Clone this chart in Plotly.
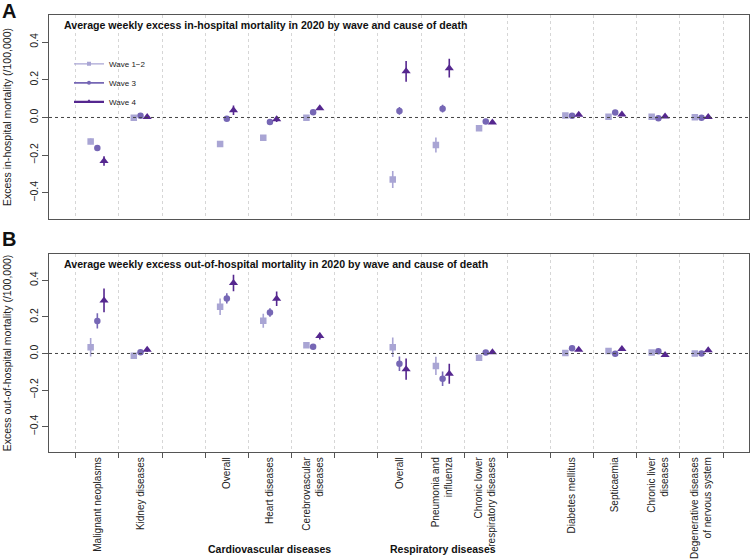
import plotly.graph_objects as go

# ---------------- data ----------------
category_slots = ["Malignant neoplasms", "Kidney diseases", "",
                  "Overall", "Heart diseases", "Cerebrovascular<br>diseases", "",
                  "Overall", "Pneumonia and<br>influenza", "Chronic lower<br>respiratory diseases", "",
                  "Diabetes mellitus", "Septicaemia", "Chronic liver<br>diseases",
                  "Degenerative diseases<br>of nervous system"]
group_labels = ["Cardiovascular diseases", "Respiratory diseases"]
group_centers = ["Heart diseases", "Pneumonia and<br>influenza"]

waves = ["Wave 1\u22122", "Wave 3", "Wave 4"]

# Panel A: in-hospital
w12_a = [-0.127, -0.002, -0.141, -0.108, -0.002, -0.329, -0.146, -0.057, 0.010, 0.004, 0.004, 0.001]
w12_a_err = [0.015, 0.006, 0.012, 0.008, 0.006, 0.045, 0.040, 0.010, 0.006, 0.006, 0.006, 0.004]
w3_a = [-0.162, 0.009, -0.007, -0.024, 0.028, 0.035, 0.047, -0.021, 0.009, 0.026, -0.004, -0.001]
w3_a_err = [0.008, 0.005, 0.006, 0.006, 0.006, 0.020, 0.020, 0.006, 0.005, 0.005, 0.004, 0.003]
w4_a = [-0.231, 0.003, 0.038, -0.009, 0.049, 0.245, 0.262, -0.026, 0.014, 0.016, 0.005, 0.002]
w4_a_err = [0.025, 0.006, 0.025, 0.015, 0.008, 0.055, 0.050, 0.008, 0.006, 0.006, 0.004, 0.004]

# Panel B: out-of-hospital
w12_b = [0.034, -0.013, 0.255, 0.179, 0.045, 0.034, -0.068, -0.023, 0.003, 0.014, 0.005, 0.000]
w12_b_err = [0.050, 0.008, 0.045, 0.038, 0.015, 0.053, 0.050, 0.008, 0.005, 0.005, 0.005, 0.004]
w3_b = [0.178, 0.007, 0.301, 0.224, 0.037, -0.056, -0.138, 0.005, 0.028, -0.002, 0.012, 0.000]
w3_b_err = [0.042, 0.006, 0.028, 0.023, 0.006, 0.040, 0.040, 0.005, 0.005, 0.004, 0.004, 0.003]
w4_b = [0.290, 0.020, 0.385, 0.299, 0.095, -0.086, -0.111, 0.007, 0.021, 0.025, -0.008, 0.018]
w4_b_err = [0.065, 0.010, 0.045, 0.040, 0.018, 0.058, 0.055, 0.006, 0.005, 0.006, 0.005, 0.005]

y_ticks = [-0.4, -0.2, 0.0, 0.2, 0.4]

# ---------------- styling ----------------
colors = ["#a9a5d4", "#7667b5", "#55278f"]
symbols = ["square", "circle", "triangle-up"]
sizes = [6.5, 6.5, 8]
offsets = [-0.155, 0.0, 0.155]
FONT = "Liberation Sans, Arial, Helvetica, sans-serif"

pos = [i + 1 for i, c in enumerate(category_slots) if c != ""]
labels = [c for c in category_slots if c != ""]
boundaries = [i + 0.5 for i in range(len(category_slots) + 1)]

fig = go.Figure()

panels = [
    ("x", "y", [(w12_a, w12_a_err), (w3_a, w3_a_err), (w4_a, w4_a_err)]),
    ("x2", "y2", [(w12_b, w12_b_err), (w3_b, w3_b_err), (w4_b, w4_b_err)]),
]
for xa, ya, series in panels:
    for k, (vals, errs) in enumerate(series):
        fig.add_trace(go.Scatter(
            x=[p + offsets[k] for p in pos], y=vals,
            mode="markers", xaxis=xa, yaxis=ya, showlegend=False,
            marker=dict(symbol=symbols[k], size=sizes[k], color=colors[k]),
            error_y=dict(type="data", array=errs, width=0, thickness=1.6, color=colors[k]),
            name=waves[k]))

# legend entries
for k in range(3):
    fig.add_trace(go.Scatter(
        x=[None], y=[None], mode="lines+markers", xaxis="x", yaxis="y",
        name=waves[k], line=dict(color=colors[k], width=1.2 + 0.5 * k),
        marker=dict(symbol=symbols[k], size=[4, 4, 5][k], color=colors[k])))

W, H = 750, 559
xdom = [49 / W, 749 / W]
ydomA = [1 - 222 / H, 1 - 15 / H]
ydomB = [1 - 458 / H, 1 - 257 / H]
LINE = "#555555"


def xaxis(show_labels):
    return dict(
        domain=xdom, range=[-0.12, 16.1], showgrid=False, zeroline=False,
        showline=True, linecolor=LINE, linewidth=1, mirror=True,
        tickmode="array", tickvals=pos, ticktext=labels, ticks="",
        showticklabels=show_labels, tickangle=-90,
        tickfont=dict(size=10, color="#222"),
        minor=dict(tickmode="array", tickvals=boundaries, showgrid=True,
                   gridcolor="#d6d6d6", griddash="dot", gridwidth=1,
                   ticks="outside" if show_labels else "", ticklen=5,
                   tickcolor=LINE, tickwidth=1),
    )


def yaxis(dom, title, anchor):
    return dict(
        domain=dom, anchor=anchor, range=[-0.54, 0.545], tickmode="array",
        tickvals=y_ticks, tickformat=".1f", tickangle=-90, ticks="outside",
        ticklen=6, tickcolor=LINE, showgrid=False, zeroline=False,
        showline=True, linecolor=LINE, linewidth=1, mirror=True,
        tickfont=dict(size=10.5, color="#222"),
        title=dict(text=title, font=dict(size=10.5, color="#222"), standoff=14),
    )


fig.update_layout(
    width=W, height=H, margin=dict(l=0, r=0, t=0, b=0),
    plot_bgcolor="white", paper_bgcolor="white",
    font=dict(family=FONT, size=10, color="#222"),
    xaxis=dict(**xaxis(False), anchor="y"),
    xaxis2=dict(**xaxis(True), anchor="y2"),
    yaxis=yaxis(ydomA, "Excess in-hospital mortality (/100,000)", "x"),
    yaxis2=yaxis(ydomB, "Excess out-of-hospital mortality (/100,000)", "x2"),
    legend=dict(x=0.092, y=1 - 50 / H, xref="paper", yref="paper",
                xanchor="left", yanchor="top", bgcolor="rgba(0,0,0,0)",
                font=dict(size=8, color="#222"), itemwidth=30,
                tracegroupgap=0),
    showlegend=True,
)

for ya in ["y", "y2"]:
    fig.add_shape(type="line", xref="x domain" if ya == "y" else "x2 domain",
                  x0=0, x1=1, yref=ya, y0=0, y1=0,
                  line=dict(color="#444", width=1, dash="3px,3px"))

ann = [
    dict(text="<b>A</b>", x=0.0, y=1.0 + 2 / H, font=dict(size=20, color="#111")),
    dict(text="<b>B</b>", x=0.0, y=1 - 229 / H, font=dict(size=20, color="#111")),
]
for a in ann:
    fig.add_annotation(xref="paper", yref="paper", xanchor="left", yanchor="top",
                       showarrow=False, **a)

fig.add_annotation(text="<b>Average weekly excess in-hospital mortality in 2020 by wave and cause of death</b>",
                   xref="paper", yref="paper", x=62 / W, y=1 - 25 / H, xanchor="left",
                   yanchor="middle", showarrow=False, font=dict(size=10.6, color="#111"))
fig.add_annotation(text="<b>Average weekly excess out-of-hospital mortality in 2020 by wave and cause of death</b>",
                   xref="paper", yref="paper", x=62 / W, y=1 - 267 / H, xanchor="left",
                   yanchor="middle", showarrow=False, font=dict(size=10.6, color="#111"))

for g, c in zip(group_labels, group_centers):
    fig.add_annotation(text="<b>" + g + "</b>", xref="x2", yref="paper",
                       x=pos[labels.index(c)], y=1 - 556 / H, xanchor="center",
                       yanchor="middle", showarrow=False,
                       font=dict(size=10.5, color="#111"))

fig.write_html("out.html", config={"displayModeBar": False},
               post_script="document.body.style.margin='0px';document.body.style.overflow='hidden';")
